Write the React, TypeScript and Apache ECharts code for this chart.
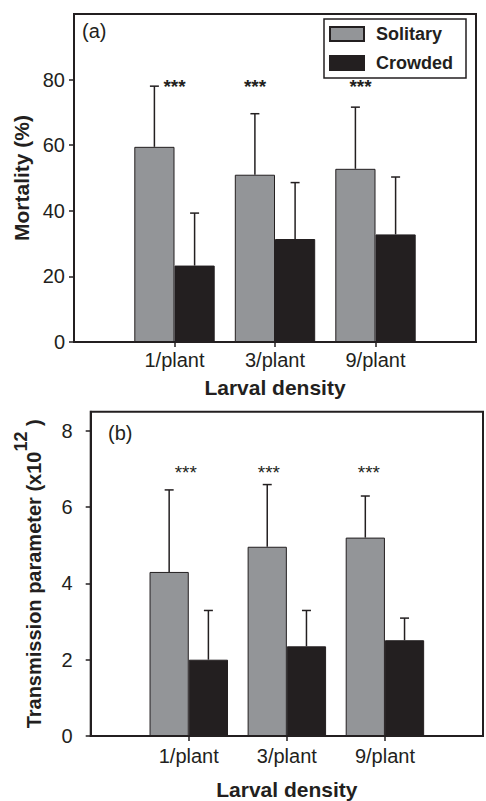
import * as echarts from "echarts";
import { useEffect, useRef } from "react";

// categories: empty ends so the three groups sit on the inner ticks
const categories = ["", "1/plant", "3/plant", "9/plant", ""];

// panel (a) mortality (%)
const mortSolitary = [59.5, 51, 52.8];
const mortSolitaryHigh = [78, 69.6, 71.6];
const mortCrowded = [23.3, 31.4, 32.8];
const mortCrowdedHigh = [39.3, 48.6, 50.3];
const mortTicks = [0, 20, 40, 60, 80];
const mortStars = [79, 79, 79];

// panel (b) transmission parameter (x10^12)
const transSolitary = [4.3, 4.96, 5.2];
const transSolitaryHigh = [6.45, 6.59, 6.29];
const transCrowded = [2.0, 2.35, 2.51];
const transCrowdedHigh = [3.29, 3.29, 3.09];
const transTicks = [0, 2, 4, 6, 8];
const transStars = [7, 7, 7];

const DARK = "#231f20";
const GRAY = "#939598";
const FONT = "'Liberation Sans', Arial, sans-serif";

// horizontal nudges of the *** marks (px)
const starShiftA = [0, -20, -15];
const starShiftB = [-3, -18, -16];

const pad = (v: number[]) => ["-", ...v, "-"];
const errData = (v: number[], hi: number[]) => v.map((y, i) => [i + 1, y, hi[i]]);
const starData = (v: number[]) => v.map((y, i) => [i + 1, y]);

const errorRender = (side: number) => (params: any, api: any) => {
  const x = api.value(0);
  const base = api.coord([x, api.value(1)]);
  const top = api.coord([x, api.value(2)]);
  const band = api.size([1, 0])[0];
  const cx = base[0] + side * band * 0.2;
  const style = { stroke: DARK, lineWidth: 1.5 };
  return {
    type: "group",
    children: [
      { type: "line", shape: { x1: cx, y1: base[1], x2: cx, y2: top[1] }, style },
      { type: "line", shape: { x1: cx - 4.5, y1: top[1], x2: cx + 4.5, y2: top[1] }, style },
    ],
  };
};

const starRender = (shift: number[], bold: boolean) => (params: any, api: any) => {
  const p = api.coord([api.value(0), api.value(1)]);
  return {
    type: "text",
    x: p[0] + shift[params.dataIndex],
    y: p[1] + 4,
    style: {
      text: "***",
      fill: DARK,
      font: `${bold ? "bold " : ""}19px ${FONT}`,
      align: "center",
      verticalAlign: "middle",
    },
  };
};

const lineStyle = { color: DARK, width: 2 };

export default function App() {
  const chartRef = useRef<HTMLDivElement>(null);

  useEffect(() => {
    if (!chartRef.current) return;

    const chart = echarts.init(chartRef.current, null, { renderer: "svg" });

    const xAxisBase = (gridIndex: number, labelMargin: number, nameGap: number) => ({
      gridIndex,
      type: "category",
      data: categories,
      boundaryGap: false,
      axisLine: { show: true, lineStyle },
      axisTick: {
        show: true,
        length: 5,
        interval: (i: number) => i > 0 && i < 4,
        lineStyle: { color: DARK, width: 1.5 },
      },
      axisLabel: { interval: 0, margin: labelMargin, color: DARK, fontSize: 20, fontFamily: FONT },
      name: "Larval density",
      nameLocation: "middle",
      nameGap,
      nameTextStyle: { color: DARK, fontSize: 21, fontWeight: "bold", fontFamily: FONT },
      splitLine: { show: false },
    });

    chart.setOption({
      animation: false,
      backgroundColor: "#fff",
      grid: [
        { left: 74, top: 14, width: 402, height: 328, show: true, borderColor: DARK, borderWidth: 2 },
        { left: 90.7, top: 411.7, width: 398.7, height: 325, show: true, borderColor: DARK, borderWidth: 2 },
      ],
      legend: {
        data: ["Solitary", "Crowded"],
        orient: "vertical",
        left: 324,
        top: 19,
        itemWidth: 34,
        itemHeight: 14,
        itemGap: 11,
        padding: [6, 13, 6, 5],
        borderColor: DARK,
        borderWidth: 1.5,
        backgroundColor: "#fff",
        icon: "rect",
        selectedMode: false,
        textStyle: { color: DARK, fontSize: 18, fontWeight: "bold", fontFamily: FONT, padding: [0, 0, 0, 7] },
      },
      xAxis: [xAxisBase(0, 8, 35), xAxisBase(1, 10, 43)],
      yAxis: [
        {
          gridIndex: 0,
          type: "value",
          min: 0,
          max: 100,
          interval: 20,
          axisLine: { show: true, lineStyle },
          axisTick: { show: true, length: 5, customValues: mortTicks, lineStyle: { color: DARK, width: 1.5 } },
          axisLabel: { customValues: mortTicks, margin: 9, color: DARK, fontSize: 20, fontFamily: FONT },
          splitLine: { show: false },
          name: "Mortality (%)",
          nameLocation: "middle",
          nameRotate: 90,
          nameGap: 41,
          nameTextStyle: { color: DARK, fontSize: 21, fontWeight: "bold", fontFamily: FONT },
        },
        {
          gridIndex: 1,
          type: "value",
          min: 0,
          max: 8.5,
          interval: 2,
          axisLine: { show: true, lineStyle },
          axisTick: { show: true, length: 5, customValues: transTicks, lineStyle: { color: DARK, width: 1.5 } },
          axisLabel: { customValues: transTicks, margin: 18, color: DARK, fontSize: 20, fontFamily: FONT },
          splitLine: { show: false },
          name: "{m|Transmission parameter (x10}{s|12}{m| )}",
          nameLocation: "middle",
          nameRotate: 90,
          nameGap: 35,
          nameTextStyle: {
            rich: {
              m: { color: DARK, fontSize: 20, fontWeight: "bold", fontFamily: FONT, lineHeight: 44 },
              s: { color: DARK, fontSize: 18, fontWeight: "bold", fontFamily: FONT, lineHeight: 18, verticalAlign: "top" },
            },
          },
        },
      ],
      graphic: [
        { type: "text", left: 82, top: 21, style: { text: "(a)", fill: DARK, font: `20px ${FONT}` } },
        { type: "text", left: 108, top: 423, style: { text: "(b)", fill: DARK, font: `20px ${FONT}` } },
      ],
      series: [
        {
          name: "Solitary",
          type: "bar",
          xAxisIndex: 0,
          yAxisIndex: 0,
          data: pad(mortSolitary),
          barWidth: "40%",
          barGap: "0%",
          itemStyle: { color: GRAY, borderColor: DARK, borderWidth: 1 },
        },
        {
          name: "Crowded",
          type: "bar",
          xAxisIndex: 0,
          yAxisIndex: 0,
          data: pad(mortCrowded),
          barWidth: "40%",
          barGap: "0%",
          itemStyle: { color: DARK, borderColor: DARK, borderWidth: 1 },
        },
        {
          type: "custom",
          xAxisIndex: 0,
          yAxisIndex: 0,
          data: errData(mortSolitary, mortSolitaryHigh),
          renderItem: errorRender(-1),
          z: 3,
        },
        {
          type: "custom",
          xAxisIndex: 0,
          yAxisIndex: 0,
          data: errData(mortCrowded, mortCrowdedHigh),
          renderItem: errorRender(1),
          z: 3,
        },
        {
          type: "custom",
          xAxisIndex: 0,
          yAxisIndex: 0,
          data: starData(mortStars),
          renderItem: starRender(starShiftA, true),
          z: 3,
        },
        {
          name: "Solitary",
          type: "bar",
          xAxisIndex: 1,
          yAxisIndex: 1,
          data: pad(transSolitary),
          barWidth: "40%",
          barGap: "0%",
          itemStyle: { color: GRAY, borderColor: DARK, borderWidth: 1 },
        },
        {
          name: "Crowded",
          type: "bar",
          xAxisIndex: 1,
          yAxisIndex: 1,
          data: pad(transCrowded),
          barWidth: "40%",
          barGap: "0%",
          itemStyle: { color: DARK, borderColor: DARK, borderWidth: 1 },
        },
        {
          type: "custom",
          xAxisIndex: 1,
          yAxisIndex: 1,
          data: errData(transSolitary, transSolitaryHigh),
          renderItem: errorRender(-1),
          z: 3,
        },
        {
          type: "custom",
          xAxisIndex: 1,
          yAxisIndex: 1,
          data: errData(transCrowded, transCrowdedHigh),
          renderItem: errorRender(1),
          z: 3,
        },
        {
          type: "custom",
          xAxisIndex: 1,
          yAxisIndex: 1,
          data: starData(transStars),
          renderItem: starRender(starShiftB, false),
          z: 3,
        },
      ],
    });

    return () => {
      chart.dispose();
    };
  }, []);

  return (
    <div
      ref={chartRef}
      style={{ position: "absolute", left: 0, top: 0, width: 486, height: 801 }}
    />
  );
}
